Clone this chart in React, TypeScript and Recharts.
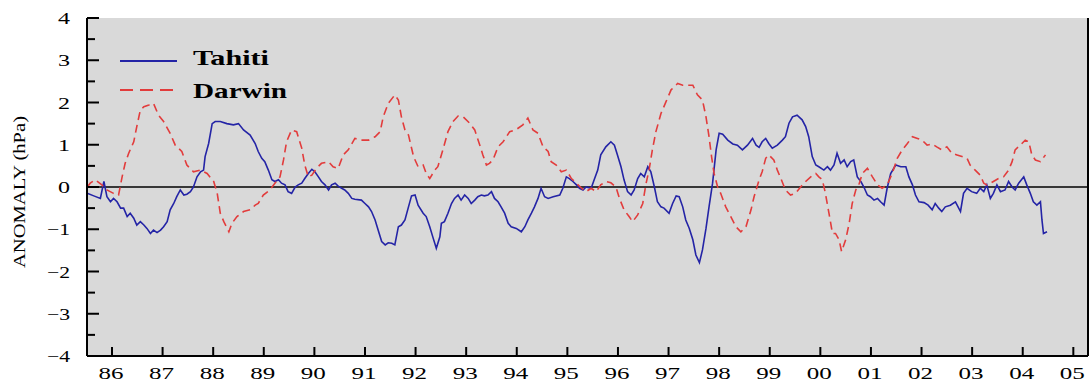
import React from 'react';
import { LineChart, Line, XAxis, YAxis, CartesianGrid, ReferenceLine, Legend } from 'recharts';

// [decimal year, anomaly hPa]
const tahitiPoints: [number, number][] = [
  [1985.51,-0.15],[1985.64,-0.21],[1985.77,-0.27],[1985.84,0.13],[1985.90,-0.23],[1985.97,-0.35],[1986.03,-0.27],[1986.10,-0.35],[1986.17,-0.5],[1986.23,-0.5],[1986.30,-0.7],[1986.36,-0.62],[1986.43,-0.74],[1986.49,-0.9],[1986.56,-0.82],[1986.63,-0.9],[1986.69,-0.98],[1986.76,-1.1],[1986.82,-1.02],[1986.89,-1.08],[1986.96,-1.02],[1987.02,-0.94],[1987.09,-0.82],[1987.15,-0.54],[1987.22,-0.39],[1987.28,-0.23],[1987.35,-0.07],[1987.42,-0.19],[1987.48,-0.17],[1987.55,-0.11],[1987.61,0],[1987.68,0.24],[1987.75,0.36],[1987.81,0.4],[1987.84,0.72],[1987.91,1.03],[1987.98,1.5],[1988.04,1.55],[1988.14,1.55],[1988.27,1.5],[1988.40,1.47],[1988.50,1.5],[1988.60,1.35],[1988.73,1.23],[1988.83,1.03],
  [1988.89,0.84],[1988.96,0.68],[1989.02,0.6],[1989.09,0.4],[1989.16,0.17],[1989.22,0.13],[1989.29,0.17],[1989.35,0.09],[1989.42,0.05],[1989.48,-0.11],[1989.55,-0.15],[1989.62,0],[1989.68,0.05],[1989.75,0.09],[1989.81,0.2],[1989.88,0.32],[1989.95,0.42],[1990.01,0.36],[1990.08,0.24],[1990.14,0.13],[1990.21,0.05],[1990.28,-0.07],[1990.34,0.05],[1990.41,0.09],[1990.47,0.02],[1990.54,-0.03],[1990.60,-0.07],[1990.67,-0.15],[1990.74,-0.27],[1990.80,-0.29],[1990.93,-0.31],[1991.00,-0.39],[1991.07,-0.47],[1991.13,-0.58],[1991.20,-0.78],[1991.26,-1.02],[1991.33,-1.29],[1991.40,-1.37],[1991.46,-1.32],[1991.53,-1.33],[1991.59,-1.37],[1991.66,-0.94],[1991.72,-0.9],[1991.79,-0.78],[1991.86,-0.47],[1991.92,-0.21],[1991.99,-0.19],[1992.05,-0.43],[1992.15,-0.62],
  [1992.21,-0.7],[1992.28,-0.94],[1992.34,-1.18],[1992.41,-1.45],[1992.48,-1.18],[1992.51,-0.86],[1992.57,-0.82],[1992.64,-0.62],[1992.71,-0.39],[1992.77,-0.27],[1992.84,-0.19],[1992.90,-0.31],[1992.97,-0.19],[1993.04,-0.27],[1993.10,-0.39],[1993.17,-0.31],[1993.23,-0.23],[1993.30,-0.19],[1993.36,-0.21],[1993.43,-0.19],[1993.50,-0.11],[1993.56,-0.27],[1993.63,-0.35],[1993.69,-0.47],[1993.76,-0.62],[1993.83,-0.86],[1993.89,-0.94],[1993.99,-0.98],[1994.09,-1.06],[1994.16,-0.94],[1994.22,-0.78],[1994.29,-0.62],[1994.35,-0.47],[1994.42,-0.27],[1994.48,-0.03],[1994.55,-0.23],[1994.62,-0.27],[1994.72,-0.23],[1994.85,-0.19],[1994.91,-0.03],[1994.98,0.24],[1995.04,0.2],[1995.11,0.13],[1995.18,0.05],[1995.24,-0.03],[1995.31,-0.07],[1995.37,0],
  [1995.47,-0.03],[1995.53,0.17],[1995.60,0.4],[1995.66,0.76],[1995.76,0.95],[1995.86,1.07],[1995.93,0.99],[1995.99,0.76],[1996.06,0.48],[1996.12,0.17],[1996.19,-0.11],[1996.26,-0.19],[1996.32,-0.07],[1996.39,0.2],[1996.45,0.32],[1996.52,0.24],[1996.59,0.48],[1996.65,0.36],[1996.72,0],[1996.78,-0.35],[1996.85,-0.47],[1996.91,-0.5],[1997.01,-0.62],[1997.08,-0.39],[1997.15,-0.21],[1997.21,-0.23],[1997.28,-0.47],[1997.34,-0.78],[1997.41,-0.98],[1997.48,-1.25],[1997.54,-1.61],[1997.61,-1.79],[1997.67,-1.49],[1997.74,-0.98],[1997.80,-0.47],[1997.87,0.09],[1997.94,0.88],[1998.00,1.27],[1998.07,1.25],[1998.17,1.11],[1998.27,1.02],[1998.36,0.99],[1998.46,0.88],[1998.56,0.99],[1998.66,1.15],[1998.73,0.99],[1998.79,0.94],
  [1998.85,1.07],[1998.92,1.15],[1998.98,1.03],[1999.05,0.92],[1999.15,0.99],[1999.25,1.11],[1999.31,1.19],[1999.38,1.51],[1999.45,1.66],[1999.54,1.7],[1999.64,1.59],[1999.71,1.43],[1999.77,1.19],[1999.84,0.72],[1999.91,0.52],[1999.97,0.48],[2000.07,0.4],[2000.14,0.48],[2000.20,0.4],[2000.27,0.52],[2000.33,0.8],[2000.40,0.56],[2000.47,0.64],[2000.53,0.48],[2000.60,0.6],[2000.66,0.64],[2000.73,0.24],[2000.80,0.13],[2000.86,0],[2000.93,-0.19],[2000.99,-0.23],[2001.06,-0.31],[2001.13,-0.27],[2001.19,-0.35],[2001.26,-0.43],[2001.32,-0.03],[2001.39,0.32],[2001.49,0.52],[2001.59,0.48],[2001.69,0.48],[2001.75,0.24],[2001.82,0.05],[2001.88,-0.19],[2001.95,-0.35],[2002.05,-0.37],[2002.13,-0.43],
  [2002.21,-0.54],[2002.27,-0.39],[2002.34,-0.5],[2002.40,-0.58],[2002.47,-0.47],[2002.57,-0.43],[2002.67,-0.35],[2002.77,-0.58],[2002.83,-0.15],[2002.90,-0.03],[2002.99,-0.11],[2003.09,-0.15],[2003.16,-0.03],[2003.23,-0.11],[2003.29,0.05],[2003.36,-0.27],[2003.42,-0.15],[2003.49,0.05],[2003.56,-0.11],[2003.65,-0.07],[2003.72,0.13],[2003.79,0],[2003.85,-0.07],[2003.92,0.09],[2004.02,0.24],[2004.08,0.05],[2004.15,-0.15],[2004.21,-0.35],[2004.28,-0.43],[2004.35,-0.35],[2004.38,-0.78],[2004.41,-1.1],[2004.48,-1.06],
];

const darwinPoints: [number, number][] = [
  [1985.51,0],[1985.57,0.09],[1985.67,0.17],[1985.80,0.05],[1985.90,-0.07],[1986.03,-0.15],[1986.13,-0.19],[1986.20,0.24],[1986.26,0.56],[1986.33,0.8],[1986.43,1.07],[1986.49,1.43],[1986.56,1.82],[1986.63,1.9],[1986.73,1.94],[1986.82,1.98],[1986.92,1.7],[1987.02,1.55],[1987.15,1.27],[1987.25,0.99],[1987.38,0.84],[1987.48,0.52],[1987.61,0.36],[1987.75,0.4],[1987.88,0.32],[1988.01,0.13],[1988.08,-0.15],[1988.14,-0.62],[1988.21,-0.82],[1988.31,-1.06],[1988.37,-0.86],[1988.47,-0.7],[1988.60,-0.58],[1988.73,-0.54],[1988.83,-0.43],
  [1988.89,-0.39],[1988.99,-0.19],[1989.12,-0.07],[1989.22,0.09],[1989.32,0.24],[1989.39,0.64],[1989.45,1.07],[1989.55,1.35],[1989.65,1.31],[1989.75,0.92],[1989.81,0.52],[1989.88,0.24],[1989.95,0.28],[1990.04,0.44],[1990.14,0.56],[1990.28,0.6],[1990.37,0.48],[1990.47,0.44],[1990.57,0.76],[1990.67,0.88],[1990.80,1.15],[1990.93,1.11],[1991.07,1.11],[1991.20,1.19],[1991.30,1.31],[1991.36,1.66],[1991.46,1.98],[1991.59,2.18],[1991.66,2.06],[1991.72,1.66],[1991.79,1.35],[1991.86,1.23],[1991.96,0.72],[1992.05,0.48],[1992.15,0.52],
  [1992.21,0.32],[1992.28,0.2],[1992.38,0.4],[1992.44,0.48],[1992.54,0.88],[1992.64,1.31],[1992.74,1.55],[1992.84,1.68],[1992.94,1.66],[1993.07,1.51],[1993.17,1.35],[1993.27,0.99],[1993.33,0.76],[1993.40,0.52],[1993.46,0.56],[1993.53,0.64],[1993.63,0.95],[1993.73,1.07],[1993.86,1.31],[1993.99,1.36],[1994.12,1.47],[1994.22,1.63],[1994.32,1.35],[1994.42,1.27],[1994.52,0.95],[1994.62,0.84],[1994.68,0.6],[1994.78,0.52],[1994.88,0.36],[1994.98,0.4],[1995.08,0.2],[1995.18,0.09],[1995.28,-0.03],[1995.37,-0.11],[1995.47,-0.03],
  [1995.57,-0.11],[1995.66,0.05],[1995.76,0.13],[1995.86,0.1],[1995.96,0],[1996.03,-0.27],[1996.12,-0.54],[1996.22,-0.7],[1996.29,-0.82],[1996.39,-0.66],[1996.49,-0.39],[1996.55,0.05],[1996.62,0.44],[1996.68,0.88],[1996.75,1.31],[1996.85,1.74],[1996.95,2.02],[1997.05,2.3],[1997.18,2.45],[1997.28,2.41],[1997.38,2.41],[1997.48,2.41],[1997.57,2.18],[1997.67,2.06],[1997.74,1.66],[1997.80,1.19],[1997.85,0.72],[1997.90,0.32],[1997.97,0],[1998.03,-0.15],[1998.13,-0.47],[1998.23,-0.7],[1998.33,-0.94],[1998.43,-1.06],[1998.53,-0.94],[1998.63,-0.54],[1998.69,-0.23],[1998.79,0.17],
  [1998.85,0.36],[1998.92,0.68],[1998.98,0.76],[1999.08,0.64],[1999.15,0.4],[1999.22,0.2],[1999.31,-0.07],[1999.41,-0.19],[1999.51,-0.15],[1999.61,0],[1999.71,0.13],[1999.81,0.24],[1999.91,0.32],[1999.97,0.24],[2000.04,0.17],[2000.10,-0.15],[2000.17,-0.62],[2000.24,-1.1],[2000.30,-1.1],[2000.37,-1.25],[2000.42,-1.53],[2000.50,-1.25],[2000.57,-0.86],[2000.63,-0.39],[2000.70,-0.07],[2000.76,0.05],[2000.83,0.32],[2000.93,0.44],[2001.03,0.24],[2001.13,0.05],[2001.22,-0.03],[2001.32,0.05],[2001.42,0.32],[2001.52,0.68],[2001.62,0.88],[2001.72,1.03],[2001.82,1.19],[2001.92,1.15],[2002.01,1.11],[2002.11,0.99],
  [2002.21,1.02],[2002.30,0.95],[2002.40,0.88],[2002.50,0.95],[2002.60,0.8],[2002.70,0.76],[2002.80,0.72],[2002.90,0.68],[2002.96,0.52],[2003.06,0.4],[2003.16,0.28],[2003.23,0.09],[2003.29,0.05],[2003.36,0.09],[2003.42,0.13],[2003.52,0.2],[2003.62,0.24],[2003.72,0.4],[2003.79,0.6],[2003.85,0.88],[2003.95,0.99],[2004.05,1.11],[2004.12,1.07],[2004.18,0.76],[2004.25,0.64],[2004.35,0.6],[2004.45,0.76],
];

const seriesNames = ['Tahiti', 'Darwin'];
const yearTicks = [1986,1987,1988,1989,1990,1991,1992,1993,1994,1995,1996,1997,1998,1999,2000,2001,2002,2003,2004,2005];
const yTicks = [-4,-3.5,-3,-2.5,-2,-1.5,-1,-0.5,0,0.5,1,1.5,2,2.5,3,3.5,4];
const xDomain: [number, number] = [1985.506, 2005.29];
const yDomain: [number, number] = [-4, 4];

const tahitiData = tahitiPoints.map(([year, value]) => ({ year, value }));
const darwinData = darwinPoints.map(([year, value]) => ({ year, value }));

const FONT = '"Liberation Serif", "Times New Roman", serif';

const LeftTick = (props: any) => {
  const { x, y, payload } = props;
  const v = payload.value as number;
  const major = Number.isInteger(v);
  const label = v < 0 ? '\u2212' + Math.abs(v) : String(v);
  return (
    <g>
      <line x1={x} x2={x + (major ? 12 : 8)} y1={y} y2={y} stroke="#000" strokeWidth={2} />
      {major && (
        <text x={x - 17} y={y + 6} textAnchor="end" fontFamily={FONT} fontSize={17} fill="#000"
          textLength={v < 0 ? 23 : 12} lengthAdjust="spacingAndGlyphs">{label}</text>
      )}
    </g>
  );
};

const RightTick = (props: any) => {
  const { x, y, payload } = props;
  const major = Number.isInteger(payload.value);
  return <line x1={x} x2={x - (major ? 7 : 4)} y1={y} y2={y} stroke="#000" strokeWidth={2} />;
};

const BottomTick = (props: any) => {
  const { x, y, payload } = props;
  const label = String(payload.value).slice(2);
  return (
    <g>
      <line x1={x} x2={x} y1={y} y2={y - 9} stroke="#000" strokeWidth={2} />
      <text x={x - 1} y={y + 23} textAnchor="middle" fontFamily={FONT} fontSize={17} fill="#000"
        textLength={25} lengthAdjust="spacingAndGlyphs">{label}</text>
    </g>
  );
};

const TopTick = (props: any) => {
  const { x, y } = props;
  return <line x1={x} x2={x} y1={y} y2={y + 7} stroke="#000" strokeWidth={2} />;
};

const YLabel = (props: any) => {
  const { viewBox } = props;
  const cx = viewBox.x + 19;
  const cy = viewBox.y + viewBox.height / 2 + 5;
  return (
    <text x={cx} y={cy} transform={`rotate(-90 ${cx} ${cy})`} textAnchor="middle" dominantBaseline="central"
      fontFamily={FONT} fontSize={16} fill="#000" textLength={152} lengthAdjust="spacingAndGlyphs">
      ANOMALY (hPa)
    </text>
  );
};

const legendWidths: Record<string, number> = { Tahiti: 76, Darwin: 94 };

const renderLegend = (props: any) => {
  const items = [...(props.payload || [])].sort(
    (a: any, b: any) => seriesNames.indexOf(a.value) - seriesNames.indexOf(b.value)
  );
  const rows = [
    { lineY: 16, textY: 20 },
    { lineY: 45, textY: 53 },
  ];
  return (
    <svg width={200} height={62} style={{ display: 'block' }}>
      {items.map((it: any, i: number) => {
        const r = rows[i] || rows[0];
        const dashed = !!(it.payload && it.payload.strokeDasharray);
        return (
          <g key={it.value}>
            <line x1={10} x2={dashed ? 65 : 67} y1={r.lineY} y2={r.lineY} stroke={it.color} strokeWidth={1.8}
              strokeDasharray={dashed ? '13 7' : undefined} />
            <text x={83} y={r.textY} fontFamily={FONT} fontWeight="bold" fontSize={21} fill="#000"
              textLength={legendWidths[it.value] || 80} lengthAdjust="spacingAndGlyphs">{it.value}</text>
          </g>
        );
      })}
    </svg>
  );
};

export default function App() {
  return (
    <div style={{ position: 'absolute', left: 0, top: 0, width: 1089, height: 383, background: '#fff' }}>
      <LineChart width={1089} height={383} margin={{ top: 18, right: 0, bottom: 0, left: 0 }}>
        <CartesianGrid fill="#d9d9d9" stroke="none" horizontal={false} vertical={false} />
        <XAxis xAxisId={0} type="number" dataKey="year" domain={xDomain} ticks={yearTicks} interval={0}
          allowDataOverflow height={27} tickSize={0} tickMargin={0} tickLine={false}
          axisLine={{ stroke: '#000', strokeWidth: 2 }} tick={BottomTick} />
        <XAxis xAxisId="top" orientation="top" type="number" dataKey="year" domain={xDomain} ticks={yearTicks}
          interval={0} allowDataOverflow height={0} tickSize={0} tickMargin={0} tickLine={false}
          axisLine={{ stroke: '#000', strokeWidth: 2 }} tick={TopTick} />
        <YAxis yAxisId={0} type="number" domain={yDomain} ticks={yTicks} interval={0} width={87}
          tickSize={0} tickMargin={0} tickLine={false} axisLine={{ stroke: '#000', strokeWidth: 2 }}
          tick={LeftTick} label={<YLabel />} />
        <YAxis yAxisId="right" orientation="right" type="number" domain={yDomain} ticks={yTicks} interval={0}
          width={1} tickSize={0} tickMargin={0} tickLine={false} axisLine={{ stroke: '#000', strokeWidth: 2 }}
          tick={RightTick} />
        <ReferenceLine y={0} stroke="#000" strokeWidth={1.5} />
        <Line data={tahitiData} dataKey="value" name="Tahiti" type="linear" stroke="#2424a6" strokeWidth={1.6}
          dot={false} isAnimationActive={false} />
        <Line data={darwinData} dataKey="value" name="Darwin" type="linear" stroke="#e23c3c" strokeWidth={1.6}
          strokeDasharray="8 5" dot={false} isAnimationActive={false} />
        <Legend layout="vertical" align="center" verticalAlign="middle" content={renderLegend}
          wrapperStyle={{ position: 'absolute', left: 110, top: 45, width: 200, height: 62 }} />
      </LineChart>
    </div>
  );
}
